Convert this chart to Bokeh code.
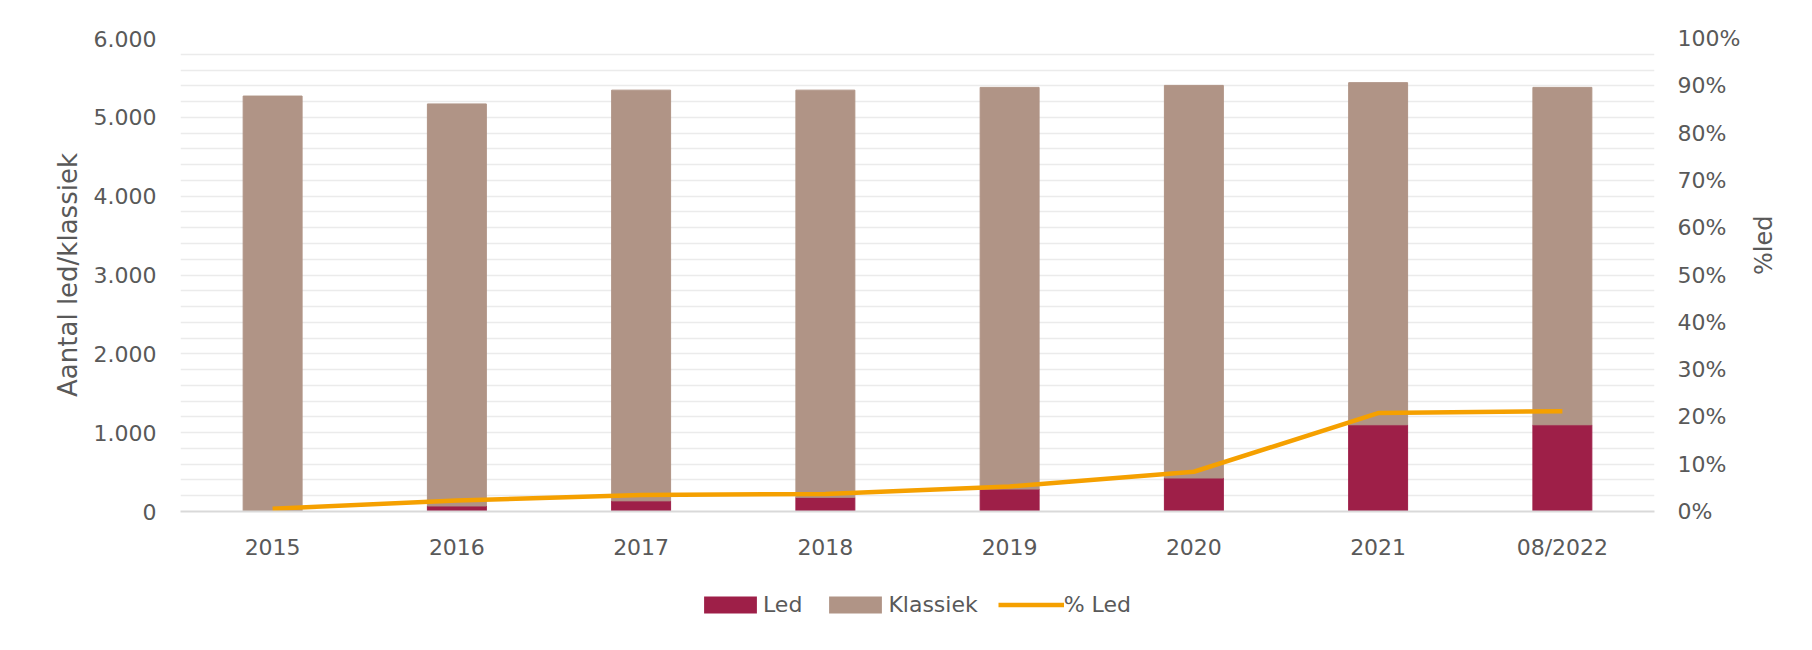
import math
from bokeh.plotting import figure
from bokeh.layouts import column
from bokeh.models import (ColumnDataSource, Range1d, FactorRange, LinearAxis, FixedTicker,
                          Legend, LegendItem)
from bokeh.embed import file_html
from bokeh.resources import INLINE

# ---- data ----
years = ["2015", "2016", "2017", "2018", "2019", "2020", "2021", "08/2022"]
led = [0, 70, 135, 180, 285, 425, 1100, 1100]
klassiek = [5270, 5100, 5210, 5165, 5095, 4980, 4340, 4280]
pct_led = [0.6, 2.3, 3.5, 3.7, 5.3, 8.4, 20.8, 21.2]

left_ticks = [0, 1000, 2000, 3000, 4000, 5000, 6000]
left_tick_labels = ["0", "1.000", "2.000", "3.000", "4.000", "5.000", "6.000"]
right_ticks = [0, 10, 20, 30, 40, 50, 60, 70, 80, 90, 100]
right_tick_labels = ["0%", "10%", "20%", "30%", "40%", "50%", "60%", "70%", "80%", "90%", "100%"]
grid_ticks = list(range(0, 6001, 200))
series_names = ["Led", "Klassiek", "% Led"]

LED_COLOR = "#9E1F48"
KLAS_COLOR = "#B09486"
LINE_COLOR = "#F5A000"
TEXT_COLOR = "#595959"
FONT = "DejaVu Sans"

source = ColumnDataSource(data=dict(year=years, led=led, klassiek=klassiek, pct=pct_led))

p = figure(x_range=FactorRange(factors=years), y_range=Range1d(0, 6000),
           width=1800, height=570, output_backend="svg", toolbar_location=None,
           min_border_left=180, min_border_right=146, min_border_top=38, min_border_bottom=59)
p.extra_y_ranges = {"pct": Range1d(0, 100)}
p.outline_line_color = None
p.background_fill_color = "white"
p.border_fill_color = "white"

bars = p.vbar_stack(["led", "klassiek"], x="year", width=0.32, source=source,
                    color=[LED_COLOR, KLAS_COLOR])
ln = p.line(x="year", y="pct", source=source, y_range_name="pct",
            line_color=LINE_COLOR, line_width=4.5)

# grid
p.xgrid.grid_line_color = None
p.ygrid.ticker = FixedTicker(ticks=grid_ticks)
p.ygrid.grid_line_color = "#ebebeb"
p.ygrid.grid_line_width = 1.5

# left axis
ya = p.yaxis[0]
ya.ticker = FixedTicker(ticks=left_ticks)
ya.major_label_overrides = dict(zip(left_ticks, left_tick_labels))
ya.axis_line_color = None
ya.major_tick_line_color = None
ya.minor_tick_line_color = None
ya.major_label_standoff = 18
ya.major_label_text_font = FONT
ya.major_label_text_font_size = "22px"
ya.major_label_text_color = TEXT_COLOR
ya.axis_label = "Aantal led/klassiek"
ya.axis_label_text_font = FONT
ya.axis_label_text_font_size = "26px"
ya.axis_label_text_font_style = "normal"
ya.axis_label_text_color = TEXT_COLOR
ya.axis_label_standoff = 8

# right axis
ra = LinearAxis(y_range_name="pct", ticker=FixedTicker(ticks=right_ticks))
ra.major_label_overrides = dict(zip(right_ticks, right_tick_labels))
ra.axis_line_color = None
ra.major_tick_line_color = None
ra.minor_tick_line_color = None
ra.major_label_standoff = 17
ra.major_label_text_font = FONT
ra.major_label_text_font_size = "22px"
ra.major_label_text_color = TEXT_COLOR
ra.axis_label = "%led"
ra.axis_label_text_font = FONT
ra.axis_label_text_font_size = "24px"
ra.axis_label_text_font_style = "normal"
ra.axis_label_text_color = TEXT_COLOR
ra.axis_label_standoff = 21
try:
    ra.axis_label_orientation = math.pi / 2
except Exception:
    pass
p.add_layout(ra, "right")

# x axis
xa = p.xaxis[0]
xa.axis_line_color = "#d9d9d9"
xa.axis_line_width = 2
xa.major_tick_line_color = None
xa.minor_tick_line_color = None
xa.major_label_standoff = 17
xa.major_label_text_font = FONT
xa.major_label_text_font_size = "22px"
xa.major_label_text_color = TEXT_COLOR

# ---- legend strip below the chart (same series, zero-width proxies out of view) ----
p2 = figure(width=1800, height=70, output_backend="svg", toolbar_location=None,
            x_range=FactorRange(factors=years), y_range=Range1d(-30000, -29000),
            x_axis_location=None, y_axis_location=None, min_border=0)
p2.outline_line_color = None
p2.grid.grid_line_color = None
p2.background_fill_color = "white"
p2.border_fill_color = "white"
g_bars = p2.vbar_stack(["led", "klassiek"], x="year", width=0, source=source,
                       fill_color=[LED_COLOR, KLAS_COLOR], line_alpha=0)
g_pct = p2.line(x="year", y="pct", source=source, line_color=LINE_COLOR, line_width=4.5)

legend = Legend(items=[LegendItem(label=series_names[0], renderers=[g_bars[0]]),
                       LegendItem(label=series_names[1], renderers=[g_bars[1]]),
                       LegendItem(label=series_names[2], renderers=[g_pct])],
                orientation="horizontal", location=(517, 23),
                glyph_width=66, glyph_height=21, label_standoff=0, spacing=20,
                padding=0, margin=0, border_line_color=None, background_fill_alpha=0,
                label_text_font=FONT, label_text_font_size="22px", label_text_color=TEXT_COLOR)
p2.add_layout(legend, "center")

open("out.html", "w").write(file_html(column(p, p2), INLINE))
